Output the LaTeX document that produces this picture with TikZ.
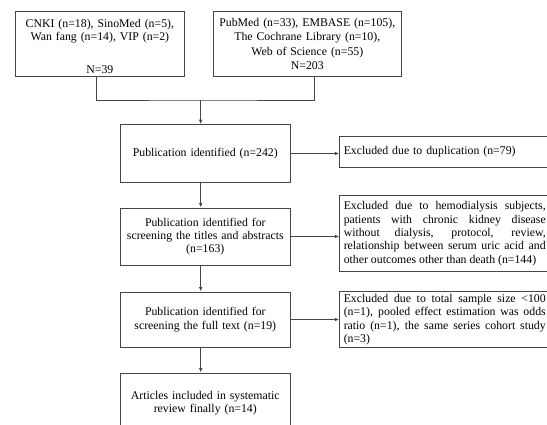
\documentclass[tikz,border=0pt]{standalone}
\usepackage{fontspec}
\setmainfont{Liberation Serif}
\usetikzlibrary{arrows.meta}
\definecolor{boxline}{RGB}{70,70,70}
\tikzset{
    srcbox/.style={draw=boxline, line width=0.9pt, align=center, inner xsep=4pt, inner ysep=2pt},
    flowbox/.style={draw=boxline, line width=0.9pt, align=center, text width=161pt, minimum width=169.3pt, inner xsep=4pt, inner ysep=2pt, font=\fontsize{11.8}{13.3}\selectfont},
    exclbox/.style={draw=boxline, line width=0.9pt, align=justify, text width=202pt, inner xsep=4pt, inner ysep=1.5pt, font=\fontsize{11.8}{13.3}\selectfont},
    connector/.style={draw=boxline, line width=0.9pt},
    flowarrow/.style={connector, -{Latex[length=4.5pt,width=3.6pt]}}
}
\begin{document}
\begin{tikzpicture}[x=1pt,y=-1pt]
    \useasboundingbox (0,0) rectangle (547,425);
    \clip (0,0) rectangle (547,425);

    % Sources
    \node[srcbox, minimum width=168.3pt, minimum height=65.7pt, text width=160pt, font=\fontsize{11.8}{13}\selectfont] (cnki) at (99.9,43.9)
        {\rule{0pt}{13pt}CNKI (n=18), SinoMed (n=5),\\Wan fang (n=14), VIP (n=2)\\[20pt]N=39};
    \node[srcbox, minimum width=187.5pt, minimum height=65pt, text width=180pt, font=\fontsize{11.8}{14.3}\selectfont] (pubmed) at (307.3,43.9)
        {PubMed (n=33), EMBASE (n=105),\\The Cochrane Library (n=10),\\Web of Science (n=55)\\N=203};
    \coordinate (join) at (200.7,100);

    % Main column
    \node[flowbox, minimum height=57.6pt] (ident) at (205.3,153.5) {Publication identified (n=242)};
    \node[flowbox, minimum height=57pt] (titles) at (205.3,236.5)
        {Publication identified for\\screening the titles and abstracts\\(n=163)};
    \node[flowbox, minimum height=55pt] (fulltext) at (205.3,319.5)
        {Publication identified for\\screening the full text (n=19)};
    \node[flowbox, minimum height=60pt] (included) at (205.3,403)
        {Articles included in systematic\\review finally (n=14)};

    % Exclusions
    \node[exclbox, align=left, minimum height=30.6pt, anchor=west] (dupl) at (339.3,152) {Excluded due to duplication (n=79)};
    \node[exclbox, minimum height=76pt, anchor=west] (hemo) at (339.3,233.7)
        {Excluded due to hemodialysis subjects,\linebreak
         patients with chronic kidney disease\linebreak
         without dialysis, protocol, review,\linebreak
         relationship between serum uric acid and\linebreak
         other outcomes other than death (n=144)};
    \node[exclbox, minimum height=56pt, anchor=west] (sample) at (339.3,319.7)
        {Excluded due to total sample size <100\linebreak
         (n=1), pooled effect estimation was odds\linebreak
         ratio (n=1), the same series cohort study\linebreak
         (n=3)};

    % Connectors
    \draw[connector] ([xshift=-3.2pt]cnki.south) |- (join) -| ([xshift=6.7pt]pubmed.south);
    \draw[flowarrow] (join) -- (join |- ident.north);
    \draw[flowarrow] (ident.south -| join) -- (titles.north -| join);
    \draw[flowarrow] (titles.south -| join) -- (fulltext.north -| join);
    \draw[flowarrow] (fulltext.south -| join) -- (included.north -| join);
    \draw[flowarrow] (ident.east) -- (ident.east -| dupl.west);
    \draw[flowarrow] (titles.east) -- (titles.east -| hemo.west);
    \draw[flowarrow] (fulltext.east) -- (fulltext.east -| sample.west);
\end{tikzpicture}
\end{document}
